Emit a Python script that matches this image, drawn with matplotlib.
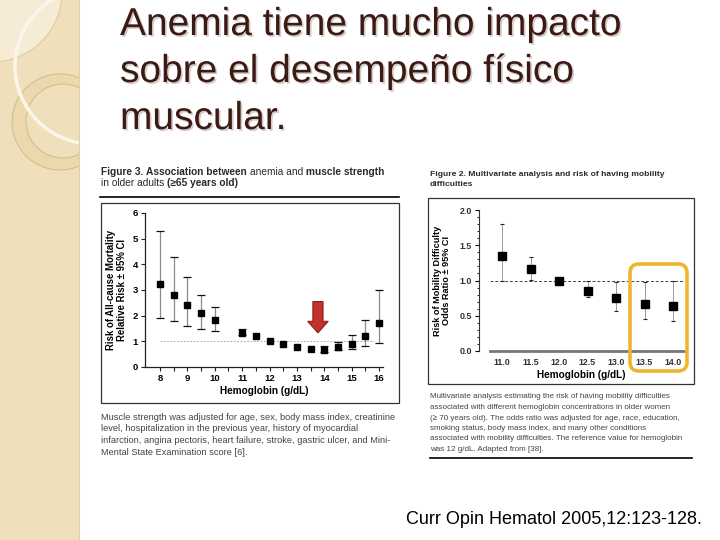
import numpy as np
import matplotlib
matplotlib.use("Agg")
import matplotlib.pyplot as plt
from matplotlib import patches
import matplotlib.patheffects as pe

plt.rcParams['font.family'] = ['Liberation Sans', 'DejaVu Sans']

# ---------------- data ----------------
title_lines = ["Anemia tiene mucho impacto", "sobre el desempeño físico", "muscular."]

hb_left = [8, 8.5, 9, 9.5, 10, 11, 11.5, 12, 12.5, 13, 13.5, 14, 14.5, 15, 15.5, 16]
rr_left = [3.25, 2.8, 2.42, 2.1, 1.82, 1.32, 1.22, 1.0, 0.88, 0.77, 0.70, 0.68, 0.76, 0.88, 1.22, 1.73]
lo_left = [1.92, 1.8, 1.6, 1.5, 1.4, 1.25, np.nan, np.nan, np.nan, np.nan, np.nan, 0.60, 0.66, 0.70, 0.82, 0.95]
hi_left = [5.3, 4.3, 3.52, 2.8, 2.32, 1.48, np.nan, np.nan, np.nan, np.nan, np.nan, 0.82, 0.99, 1.25, 1.82, 3.0]
xt_left = [8, 9, 10, 11, 12, 13, 14, 15, 16]
yt_left = [0, 1, 2, 3, 4, 5, 6]

hb_right = [11.0, 11.5, 12.0, 12.5, 13.0, 13.5, 14.0]
or_right = [1.35, 1.16, 1.0, 0.85, 0.75, 0.67, 0.64]
lo_right = [1.0, 1.01, np.nan, 0.76, 0.57, 0.46, 0.42]
hi_right = [1.8, 1.34, np.nan, 0.99, 0.98, 0.98, 1.0]
yt_right = [0.0, 0.5, 1.0, 1.5, 2.0]

# caption title segments: (text, weight)
cap_left_title = [[("Figure 3. ", 'bold'), ("Association between ", 'bold'), ("anemia and ", 'normal'),
                   ("muscle strength", 'bold')],
                  [("in older adults ", 'normal'), ("(\u226565 years old)", 'bold')]]
cap_left_body = ["Muscle strength was adjusted for age, sex, body mass index, creatinine",
                 "level, hospitalization in the previous year, history of myocardial",
                 "infarction, angina pectoris, heart failure, stroke, gastric ulcer, and Mini-",
                 "Mental State Examination score [6]."]
cap_right_title = [[("Figure 2. Multivariate analysis and risk of having mobility", 'bold')],
                   [("difficulties", 'bold')]]
cap_right_body = ["Multivariate analysis estimating the risk of having mobility difficulties",
                  "associated with different hemoglobin concentrations in older women",
                  "(\u2265 70 years old). The odds ratio was adjusted for age, race, education,",
                  "smoking status, body mass index, and many other conditions",
                  "associated with mobility difficulties. The reference value for hemoglobin",
                  "was 12 g/dL. Adapted from [38]."]
source_text = "Curr Opin Hematol 2005,12:123-128."

W, H = 720, 540
fig = plt.figure(figsize=(7.2, 5.4), dpi=100)
fig.patch.set_facecolor('white')
renderer = fig.canvas.get_renderer()


def rect(x0, y0, x1, y1):
    return [x0 / W, 1 - y1 / H, (x1 - x0) / W, (y1 - y0) / H]


# ---------------- background (pixel coordinates) ----------------
bg = fig.add_axes([0, 0, 1, 1], zorder=0)
bg.set_xlim(0, W)
bg.set_ylim(H, 0)
bg.axis('off')


def seg_text(x, y, segs, size, color):
    for txt, wt in segs:
        t = bg.text(x, y, txt, fontsize=size, fontweight=wt, color=color, va='center', ha='left')
        x = t.get_window_extent(renderer=renderer).x1


side = patches.Rectangle((0, 0), 79, H, fc='#efdfba', ec='none')
bg.add_patch(side)
bg.plot([79, 79], [0, H], color='#e2cfa4', lw=0.8)
for c in [patches.Circle((-8, -8), 70, fc='#f6ecd5', ec='#d9c596', lw=0.6),
          patches.Circle((60, 122), 48, fc='#ebd8ad', ec='#cdb687', lw=0.6),
          patches.Circle((63, 121), 37, fc='#efdfba', ec='#cdb687', lw=0.6),
          patches.Circle((93, 66), 78, fill=False, ec='#fbf6ea', lw=2.5)]:
    bg.add_patch(c)
    c.set_clip_path(side)

# title
for i, line in enumerate(title_lines):
    bg.text(120, 35 + i * 47, line, fontsize=28, color='#3a1a12', va='baseline', ha='left',
            path_effects=[pe.withSimplePatchShadow(offset=(1.2, -1.2), shadow_rgbFace='#b8a8a0', alpha=0.6)])

# left figure frame
seg_text(101, 172, cap_left_title[0], 7.3, '#2a2a2a')
seg_text(101, 183, cap_left_title[1], 7.3, '#2a2a2a')
bg.plot([100, 399], [197, 197], color='black', lw=1.2)
bg.add_patch(patches.Rectangle((100.5, 203), 298.5, 200, fill=False, ec='#333333', lw=0.9))
for i, line in enumerate(cap_left_body):
    bg.text(101, 417 + i * 11.7, line, fontsize=6.7, color='#444444', va='center')

# right figure frame
seg_text(430, 174.5, cap_right_title[0], 6.1, '#2a2a2a')
seg_text(430, 184.5, cap_right_title[1], 6.1, '#2a2a2a')
bg.add_patch(patches.Rectangle((428, 198), 266, 186, fill=False, ec='#333333', lw=0.9))
for i, line in enumerate(cap_right_body):
    bg.text(430, 397 + i * 10.5, line, fontsize=5.75, color='#444444', va='center')
bg.plot([430, 692], [458, 458], color='black', lw=1.2)

bg.text(406, 519, source_text, fontsize=13, color='black', va='center', ha='left')

# ---------------- left chart ----------------
ax1 = fig.add_axes(rect(145, 213, 383, 367), zorder=2)
ax1.set_facecolor('none')
ax1.set_xlim(7.452, 16.146)
ax1.set_ylim(0, 6)
for s in ['top', 'right']:
    ax1.spines[s].set_visible(False)
for s in ['left', 'bottom']:
    ax1.spines[s].set_linewidth(0.9)
    ax1.spines[s].set_color('#222222')
ax1.set_xticks(xt_left)
ax1.set_xticks(np.arange(8.5, 16, 1.0), minor=True)
ax1.set_yticks(yt_left)
ax1.tick_params(axis='both', which='both', direction='out', length=3, width=0.8, color='#222222',
                labelsize=6.8, pad=2)
for lab in ax1.get_xticklabels() + ax1.get_yticklabels():
    lab.set_fontweight('bold')
ax1.set_xlabel("Hemoglobin (g/dL)", fontsize=7.2, fontweight='bold', labelpad=2)
ax1.set_ylabel("Risk of All-cause Mortality\nRelative Risk \u00b1 95% CI", fontsize=6.9,
               fontweight='bold', labelpad=4, linespacing=1.1)
ax1.hlines(1.0, 8, 15.8, colors='#999999', linestyles=(0, (2, 2)), lw=0.6)

hbl = np.array(hb_left); rrl = np.array(rr_left)
lol = np.array(lo_left); hil = np.array(hi_left)
m = ~np.isnan(lol)
yerr_l = np.vstack([rrl[m] - lol[m], hil[m] - rrl[m]])
ax1.errorbar(hbl[m], rrl[m], yerr=yerr_l, fmt='none', ecolor='#8a8a8a', elinewidth=0.9, capsize=0)
ax1.errorbar(hbl[m], rrl[m], yerr=yerr_l, fmt='none', ecolor='#111111', elinewidth=0, capsize=2.6,
             capthick=0.9)
ax1.plot(hbl, rrl, 's', color='black', ms=4.6, zorder=5)

# red arrow annotation
ax1.add_patch(patches.FancyArrow(13.77, 2.55, 0, -1.22, width=0.37, head_width=0.75, head_length=0.45,
                                 length_includes_head=True, fc='#c0322b', ec='#8e1d18', lw=0.8, zorder=6))

# ---------------- right chart ----------------
ax2 = fig.add_axes(rect(479, 210, 684, 351), zorder=2)
ax2.set_facecolor('none')
ax2.set_xlim(10.596, 14.193)
ax2.set_ylim(0, 2.0)
for s in ['top', 'right']:
    ax2.spines[s].set_visible(False)
ax2.spines['left'].set_linewidth(0.8)
ax2.spines['left'].set_color('#333333')
ax2.spines['bottom'].set_linewidth(2.0)
ax2.spines['bottom'].set_color('#777777')
ax2.spines['bottom'].set_bounds(10.79, 14.19)
ax2.set_xticks(hb_right)
ax2.set_xticklabels([f"{v:.1f}" for v in hb_right])
ax2.set_yticks(yt_right)
ax2.set_yticklabels([f"{v:.1f}" for v in yt_right])
ax2.set_yticks(np.arange(0, 2.01, 0.1), minor=True)
ax2.tick_params(axis='x', which='both', length=0, labelsize=6.4, pad=5, labelcolor='#333333')
ax2.tick_params(axis='y', which='major', direction='out', length=3, width=0.8, labelsize=6.4,
                pad=2, labelcolor='#333333')
ax2.tick_params(axis='y', which='minor', direction='out', length=1.5, width=0.6)
for lab in ax2.get_xticklabels() + ax2.get_yticklabels():
    lab.set_fontweight('bold')
ax2.set_xlabel("Hemoglobin (g/dL)", fontsize=7.2, fontweight='bold', labelpad=2)
ax2.set_ylabel("Risk of Mobility Difficulty\nOdds Ratio \u00b1 95% CI", fontsize=6.6,
               fontweight='bold', labelpad=6, linespacing=1.1)
ax2.axhline(1.0, xmin=0.055, xmax=1.0, color='#444444', ls=(0, (3, 2)), lw=0.7)

hbr = np.array(hb_right); orr = np.array(or_right)
lor = np.array(lo_right); hir = np.array(hi_right)
m2 = ~np.isnan(lor)
yerr_r = np.vstack([orr[m2] - lor[m2], hir[m2] - orr[m2]])
ax2.errorbar(hbr[m2], orr[m2], yerr=yerr_r, fmt='none', ecolor='#9a9a9a', elinewidth=0.7, capsize=0)
ax2.errorbar(hbr[m2], orr[m2], yerr=yerr_r, fmt='none', ecolor='#222222', elinewidth=0, capsize=1.6,
             capthick=0.8)
ax2.plot(hbr, orr, 's', color='black', ms=5.4, zorder=5)

# ---------------- overlay highlight ----------------
ov = fig.add_axes([0, 0, 1, 1], zorder=10)
ov.set_xlim(0, W)
ov.set_ylim(H, 0)
ov.axis('off')
ov.patch.set_alpha(0)
ov.add_patch(patches.FancyBboxPatch((630, 264), 57, 107, boxstyle='round,pad=0,rounding_size=9',
                                    fill=False, ec='#f0b52e', lw=2.6))

fig.savefig('out.png', dpi=100)
